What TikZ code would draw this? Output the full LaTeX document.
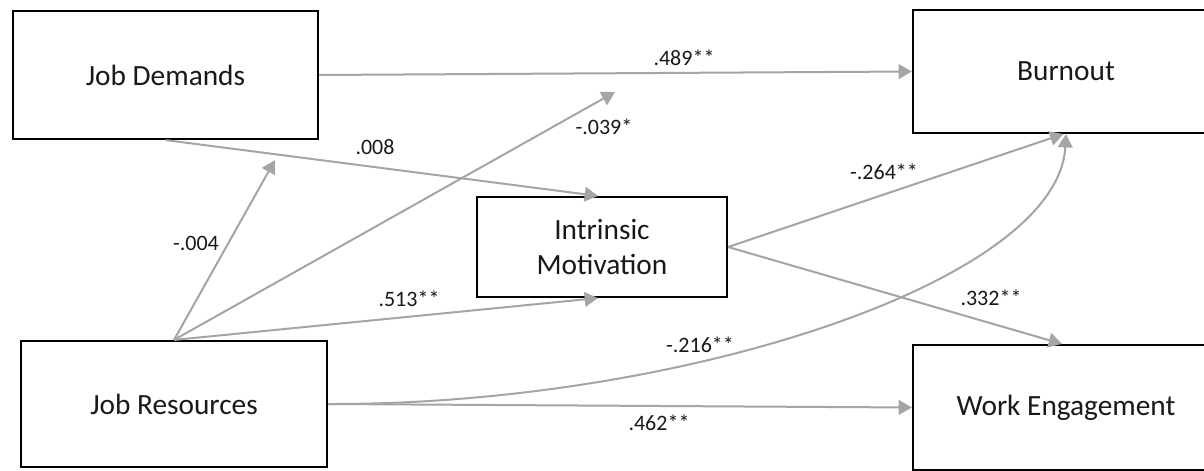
\documentclass[tikz,border=0pt]{standalone}
\usepackage{fontspec}
\setmainfont{Carlito}
\usetikzlibrary{arrows.meta,calc}
\definecolor{linkgray}{RGB}{165,165,165}
\definecolor{inkdark}{RGB}{25,25,25}
\begin{document}
\begin{tikzpicture}[x=0.75pt,y=-0.75pt,
  box/.style={draw=black,line width=1.6pt,fill=white,align=center,
    font=\fontsize{22}{26}\selectfont,text=inkdark,inner sep=0pt},
  path/.style={draw=linkgray,line width=1.5pt,-{Triangle[length=10pt,width=11pt]}},
  coef/.style={font=\fontsize{16.5}{18}\selectfont,text=inkdark,inner sep=1pt}]
\clip (0,0) rectangle (1204,471);
\fill[white] (0,0) rectangle (1204,471);

% variables
\node[box,minimum width=228.75pt,minimum height=96pt] (jd) at (165.5,75) {Job Demands};
\node[box,minimum width=229.5pt,minimum height=92.25pt] (bo) at (1066,71.5) {Burnout};
\node[box,minimum width=187.5pt,minimum height=75pt] (im) at (602,247) {Intrinsic\\Motivation};
\node[box,minimum width=229.5pt,minimum height=94.5pt] (jr) at (174,404) {Job Resources};
\node[box,minimum width=229.5pt,minimum height=93.75pt] (we) at (1066,407.5) {Work Engagement};

% ends of the moderation arrows
\coordinate (m1) at (275,160);
\coordinate (m2) at (615,92);

% paths
\draw[path] (jd.east) -- (bo.west);
\draw[path] (jd.south) -- ([xshift=-3pt]im.north);
\draw[path] (jr.north) -- (m1);
\draw[path] (jr.north) -- (m2);
\draw[path] (jr.north) -- ([xshift=-3pt]im.south);
\draw[path] (im.east) -- ([xshift=-2pt]bo.south);
\draw[path] (im.east) -- ([xshift=-3pt]we.north);
\draw[path] (jr.east) .. controls (680,405) and (1058,282) .. (bo.south);
\draw[path] (jr.east) -- (we.west);

% coefficients
\node[coef] (c489) at (684,58) {.489**};
\node[coef] (c008) at (375,147) {.008};
\node[coef] (c004) at (196,243) {-.004};
\node[coef] (c039) at (604,127) {-.039*};
\node[coef] (c513) at (409,299) {.513**};
\node[coef] (c264) at (884,172) {-.264**};
\node[coef] (c332) at (991,298) {.332**};
\node[coef] (c216) at (700,345) {-.216**};
\node[coef] (c462) at (659,423) {.462**};
\end{tikzpicture}
\end{document}
